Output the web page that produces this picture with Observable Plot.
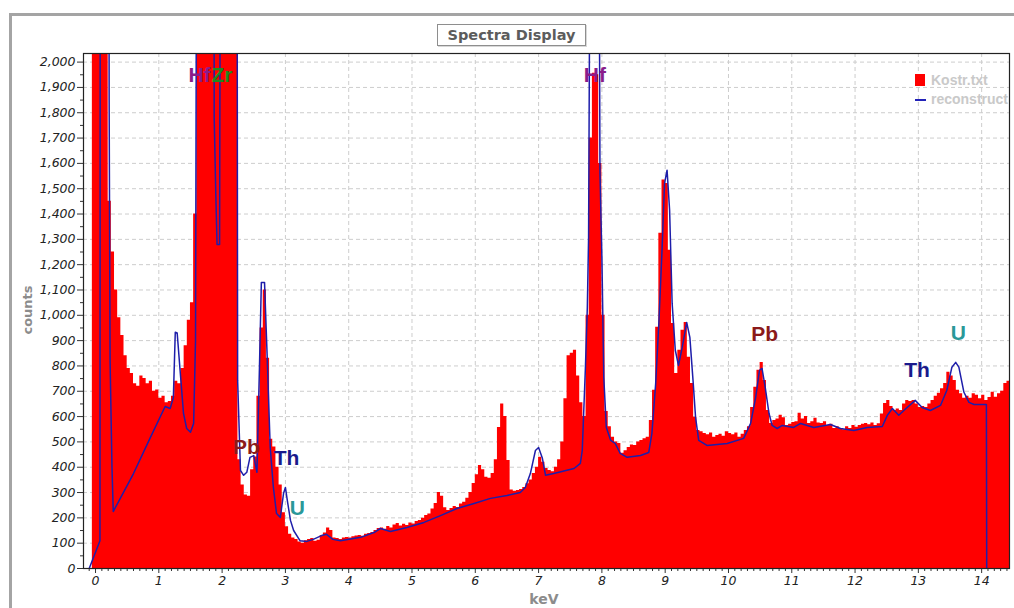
<!DOCTYPE html>
<html>
<head>
<meta charset="utf-8">
<script src="https://cdn.jsdelivr.net/npm/d3@7"></script>
<script src="https://cdn.jsdelivr.net/npm/@observablehq/plot@0.6"></script>
<style>
  body { margin: 0; background: #fff; }
  #wrap { position: relative; width: 1014px; height: 608px; overflow: hidden; background: #fff; }
  #outer { position: absolute; left: 9px; top: 13px; width: 1100px; height: 700px;
           border-left: 3px solid #a4a4a4; border-top: 3px solid #a4a4a4; }
  #chart { position: absolute; left: 0; top: 0; }
  #title { position: absolute; left: 437px; top: 24px; width: 147px; height: 20px;
           border: 1px solid #8e8e8e; box-shadow: 1px 1px 0 #d8d8d8;
           font: bold 14.5px "DejaVu Sans", sans-serif; color: #5c5c5c;
           text-align: center; line-height: 20px; background: #fff; }
  .lab { position: absolute; font: bold 13px "DejaVu Sans", sans-serif; color: #8c8c8c; white-space: nowrap; }
  #ylab { left: 27px; top: 310px; transform: translate(-50%, -50%) rotate(-90deg); }
  #xlab { left: 544px; top: 599px; transform: translate(-50%, -50%); font-size: 14px; }
  .leg { position: absolute; font: bold 14px "Liberation Sans", Arial, sans-serif; color: #c9c9c9; white-space: nowrap; }
  .sw { position: absolute; }
</style>
</head>
<body>
<div id="wrap">
  <div id="outer"></div>
  <div id="chart"></div>
  <div id="title">Spectra Display</div>
  <div id="ylab" class="lab">counts</div>
  <div id="xlab" class="lab">keV</div>
  <div class="sw" style="left:915px;top:74px;width:10px;height:12px;background:#ff0000;"></div>
  <div class="leg" style="left:931px;top:72px;">Kostr.txt</div>
  <div class="sw" style="left:915px;top:99px;width:11px;height:2px;background:#2222b8;"></div>
  <div class="leg" style="left:931px;top:91px;">reconstruct</div>
</div>
<script>
// ---- measured spectrum (Kostr.txt), channels of 0.05 keV starting at -0.10 keV ----
const redStartKeV = -0.10;
const redBinKeV = 0.05;
const redCounts = [
  0, 3000,
  3000,3000,3000,2100,1450,1250,1100,990,920,840,790,770,730,720,760,750,730,740,700,705,
  672,680,655,660,680,740,730,790,880,980,1050,1400,3000,3000,3000,3000,3000,3000,3000,3000,
  3000,3000,3000,3000,3000,430,330,290,285,390,440,680,950,1100,830,510,480,400,330,220,
  165,135,120,115,105,100,110,115,118,108,112,130,140,160,150,120,118,115,120,122,
  120,125,128,130,127,135,138,142,150,158,160,155,166,160,172,178,168,175,170,180,
  176,186,190,198,209,215,235,257,300,285,240,229,237,245,241,255,262,277,300,336,
  370,407,390,360,356,375,430,557,650,600,427,310,305,308,312,320,335,350,375,400,
  439,420,395,387,382,400,430,500,670,840,850,862,760,655,600,1000,1700,1956,1950,1600,
  1000,620,560,518,500,494,455,465,478,488,486,500,506,512,518,585,704,953,1324,1534,
  1521,1257,968,770,862,941,972,834,731,597,545,540,533,528,535,518,525,530,522,540,
  533,528,535,518,530,545,560,636,716,783,814,743,624,573,585,590,605,595,565,570,
  577,580,613,590,600,573,580,593,575,573,580,565,570,553,560,553,548,560,553,565,
  558,565,570,573,568,575,565,572,610,652,664,640,624,630,624,650,664,660,664,650,
  636,640,636,650,664,680,692,710,731,775,760,743,704,690,672,680,672,690,684,670,
  684,664,675,696,676,690,700,731,740
];

// ---- reconstructed spectrum ----
const blueKeV = [
  -0.10,0.07,0.075,0.21,0.215,0.23,0.26,0.28,0.60,0.86,1.10,1.18,1.23,1.26,1.29,1.34,1.39,1.44,1.50,1.55,1.58,1.60,
  1.87,1.875,1.90,1.92,1.96,1.975,2.235,2.245,2.29,2.34,2.39,2.44,2.50,2.55,2.59,2.62,2.67,2.71,2.76,2.81,2.86,2.92,2.97,3.00,
  3.03,3.08,3.13,3.23,3.34,3.44,3.57,3.65,3.75,3.87,4.19,4.40,4.50,4.66,4.92,5.19,5.45,5.71,5.98,6.24,6.50,6.71,6.79,6.87,
  6.95,7.00,7.06,7.11,7.24,7.56,7.66,7.69,7.74,7.77,7.79,7.82,7.95,7.97,8.00,8.03,8.07,8.14,8.21,8.29,8.40,8.61,8.74,8.79,
  8.85,8.90,8.95,8.99,9.03,9.07,9.11,9.16,9.21,9.27,9.34,9.39,9.44,9.48,9.53,9.66,9.98,10.24,10.35,10.43,10.49,10.53,10.58,
  10.64,10.69,10.77,10.85,11.03,11.14,11.35,11.61,11.77,11.98,12.19,12.43,12.51,12.59,12.69,12.77,12.95,13.06,13.19,13.35,
  13.45,13.53,13.59,13.64,13.72,13.80,13.88,14.075,14.08
];
const blueCounts = [
  0,110,3000,3000,1850,820,400,225,375,514,640,632,676,933,930,770,613,553,538,573,900,3000,
  3000,1780,1480,1280,1280,3000,3000,743,387,368,380,439,446,380,795,1130,1130,850,478,320,217,202,296,320,
  269,190,150,110,107,115,130,135,115,110,123,142,158,146,162,182,209,237,257,277,288,300,320,375,
  466,478,435,368,375,395,415,466,795,1031,1308,3000,3000,1561,1230,755,557,506,494,455,439,446,458,533,
  731,968,1257,1521,1573,1415,1047,862,802,874,972,913,743,597,506,486,494,514,573,676,783,790,716,
  613,565,553,565,557,573,557,569,553,545,557,561,605,632,605,624,664,636,624,644,
  704,795,814,795,696,656,648,648,0
];

// ---- axis ticks ----
const xTickLabels = [0,1,2,3,4,5,6,7,8,9,10,11,12,13,14];
const yTickValues = [0,100,200,300,400,500,600,700,800,900,1000,1100,1200,1300,1400,1500,1600,1700,1800,1900,2000];

// ---- element labels ----
const peakNames  = ["Hf","Zr","Hf","Pb","Th","U","Pb","Th","U"];
const peakKeV    = [1.643,1.998,7.89,10.57,12.98,13.63,2.385,3.017,3.19];
const peakCounts = [1947,1947,1947,925,781,929,478,435,237];
const peakColors = ["#8a1c8a","#1e8a1e","#8a1c8a","#8b1a1a","#1a1a8c","#2a9898","#8b1a1a","#1a1a8c","#2a9898"];

const red = redCounts.map((c, i) => ({keV: redStartKeV + i * redBinKeV, counts: c}));
red.push({keV: redStartKeV + redCounts.length * redBinKeV, counts: redCounts[redCounts.length - 1]});
const blue = blueKeV.map((k, i) => ({keV: k, counts: blueCounts[i]}));
const peaks = peakNames.map((n, i) => ({name: n, keV: peakKeV[i], counts: peakCounts[i], color: peakColors[i]}));

const minorX = d3.range(-0.1, 14.45, 0.1).map(v => +v.toFixed(1)).filter(v => !xTickLabels.includes(v));
const minorY = d3.range(50, 2001, 100);

const chart = Plot.plot({
  width: 1014, height: 608,
  marginLeft: 83, marginRight: 5, marginTop: 53, marginBottom: 40,
  x: {domain: [-0.19, 14.44]},
  y: {domain: [0, 2034]},
  style: {fontFamily: "DejaVu Sans, sans-serif", background: "transparent", overflow: "visible"},
  marks: [
    Plot.gridX(xTickLabels, {stroke: "#cdcdcd", strokeOpacity: 1, strokeDasharray: "4,3"}),
    Plot.gridY(yTickValues.filter(v => v > 0), {stroke: "#cdcdcd", strokeOpacity: 1, strokeDasharray: "4,3"}),
    Plot.areaY(red, {x: "keV", y: "counts", curve: "step-after", fill: "#ff0000", clip: true}),
    Plot.line(blue, {x: "keV", y: "counts", stroke: "#1e1eaa", strokeWidth: 1.5, clip: true}),
    Plot.text(peaks, {x: "keV", y: "counts", text: "name", fill: "color", fontSize: 21, fontWeight: "bold",
                      fontFamily: "Liberation Sans, Arial, sans-serif", textAnchor: "middle", lineAnchor: "middle"}),
    Plot.axisX(xTickLabels, {tickSize: 5, tickPadding: 3, fontStyle: "italic", fontSize: 12.5,
                             fill: "#222", stroke: "#333", label: null}),
    Plot.axisX(minorX, {tickSize: 3, tickFormat: () => "", stroke: "#333", label: null}),
    Plot.axisY(yTickValues, {tickSize: 6, tickPadding: 2, tickFormat: d3.format(","), fontStyle: "italic",
                             fontSize: 12.5, fill: "#222", stroke: "#333", label: null}),
    Plot.axisY(minorY, {tickSize: 3, tickFormat: () => "", stroke: "#333", label: null}),
    Plot.frame({stroke: "#222", strokeWidth: 1.2})
  ]
});
document.getElementById("chart").appendChild(chart);
</script>
</body>
</html>
